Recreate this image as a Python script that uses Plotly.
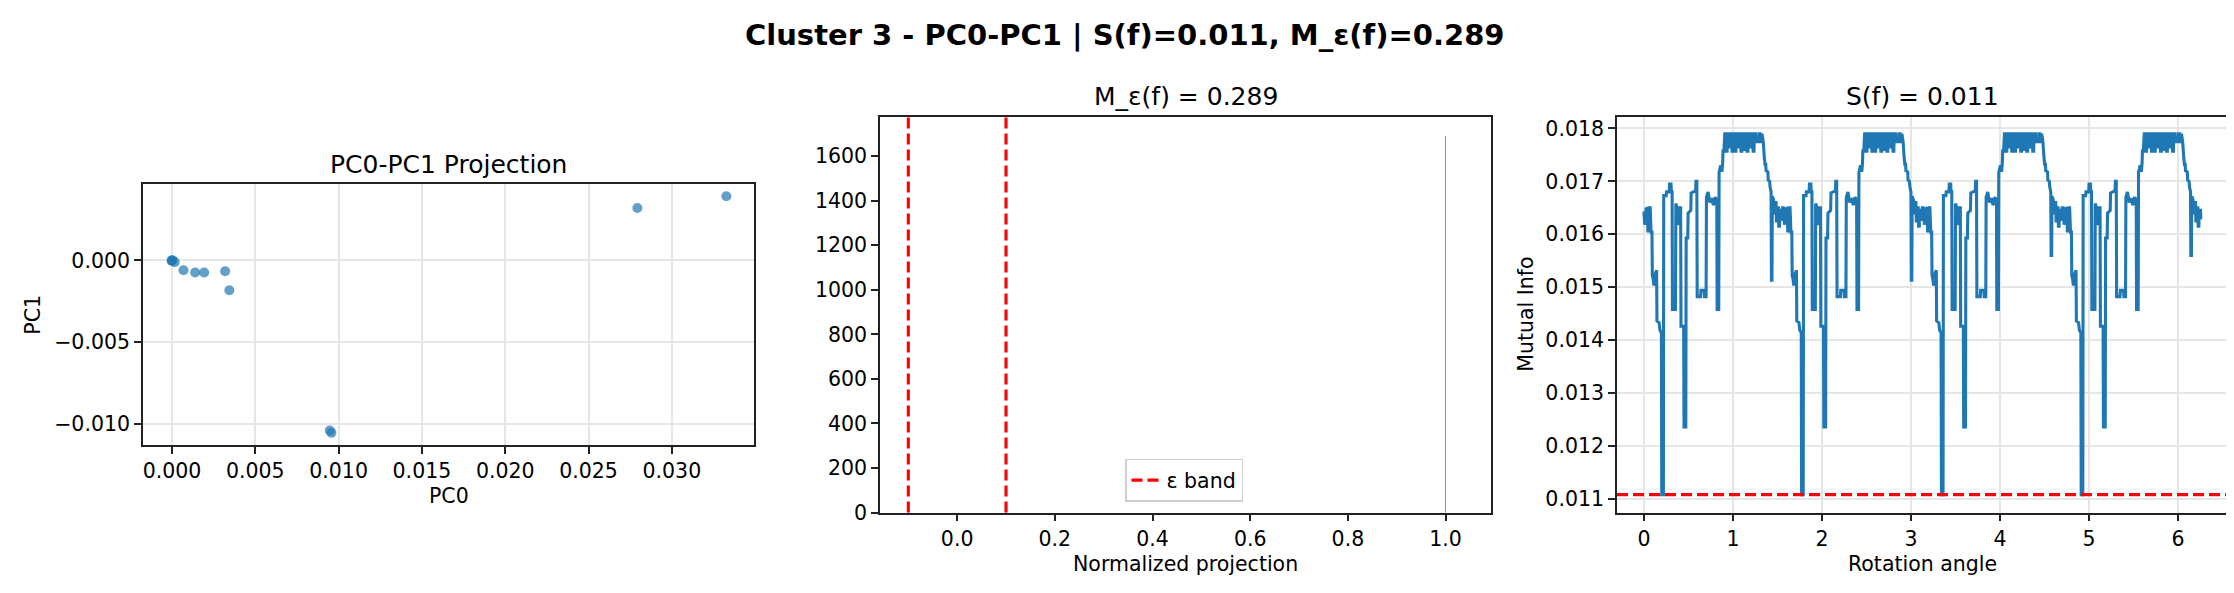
import plotly.graph_objects as go

# ---- datos ----
# panel izquierdo: proyeccion PC0-PC1
pc0 = [0.0, 0.00002, -0.00003, 0.00016, 0.00069, 0.00139, 0.00193, 0.00319, 0.00344,
       0.00947, 0.00957, 0.02793, 0.03327]
pc1 = [0.0, 0.00002, -0.00002, -0.00010, -0.00060, -0.00074, -0.00074, -0.00066, -0.00182,
       -0.01041, -0.01055, 0.00321, 0.00393]

# panel central: histograma de la proyeccion normalizada
hist_x = [1.0]
hist_count = [1692]
epsilon = 0.1
m_eps = 0.289

# panel derecho: informacion mutua vs angulo de rotacion
# un cuarto de vuelta leido del primer ciclo; los cuatro ciclos se repiten salvo
# la caida corta del final (None), que es menos profunda en los dos ultimos
quarter_angle = [
    0.000, 0.008, 0.016, 0.024, 0.040, 0.044, 0.056, 0.060, 0.070, 0.080, 0.090, 0.094,
    0.104, 0.112, 0.120, 0.134, 0.142, 0.146, 0.170, 0.180, 0.196, 0.200, 0.218, 0.222,
    0.250, 0.254, 0.284, 0.288, 0.304, 0.308, 0.316, 0.320, 0.354, 0.358, 0.372, 0.380,
    0.388, 0.392, 0.412, 0.416, 0.446, 0.450, 0.470, 0.474, 0.492, 0.496, 0.526, 0.530,
    0.580, 0.584, 0.594, 0.598, 0.636, 0.640, 0.676, 0.680, 0.698, 0.702, 0.720, 0.740,
    0.760, 0.780, 0.800, 0.818, 0.822, 0.840, 0.844, 0.862, 0.876, 0.884, 0.888, 0.898,
    0.902, 0.908, 0.920, 0.924, 0.934, 0.938, 0.952, 0.956, 0.966, 0.970, 0.986, 0.990,
    1.000, 1.004, 1.018, 1.022, 1.032, 1.036, 1.052, 1.056, 1.066, 1.070, 1.086, 1.090,
    1.100, 1.104, 1.120, 1.124, 1.134, 1.138, 1.154, 1.158, 1.168, 1.172, 1.188, 1.192,
    1.202, 1.206, 1.222, 1.226, 1.236, 1.240, 1.256, 1.260, 1.290, 1.294, 1.306, 1.310,
    1.322, 1.326,
    1.340, 1.344, 1.352, 1.360, 1.368, 1.372, 1.392, 1.396, 1.412, 1.416, 1.428, 1.432,
    1.438, 1.442, 1.456, 1.460, 1.468, 1.472, 1.484, 1.488, 1.496, 1.500, 1.510, 1.514,
    1.522, 1.526, 1.540, 1.544, 1.552, 1.556, 1.566,
]
quarter_mi = [
    0.01643, 0.01618, 0.01625, 0.01648, 0.01650, 0.01606, 0.01606, 0.01650, 0.01650, 0.01604, 0.01604, 0.01522,
    0.01515, 0.01503, 0.01522, 0.01532, 0.01532, 0.01436, 0.01433, 0.01418, 0.01414, 0.01108, 0.01108, 0.01673,
    0.01673, 0.01680, 0.01680, 0.01695, 0.01695, 0.01680, 0.01680, 0.01458, 0.01458, 0.01658, 0.01650, 0.01620,
    0.01620, 0.01650, 0.01650, 0.01426, 0.01426, 0.01236, 0.01236, 0.01593, 0.01593, 0.01640, 0.01645, 0.01678,
    0.01682, 0.01700, 0.01700, 0.01482, 0.01482, 0.01494, 0.01494, 0.01482, 0.01482, 0.01670, 0.01680, 0.01660,
    0.01668, 0.01655, 0.01670, 0.01665, 0.01458, 0.01458, 0.01717, 0.01730, 0.01718, 0.01735, 0.01757, 0.01757,
    0.01775, 0.01790, 0.01790, 0.01757, 0.01757, 0.01790, 0.01790, 0.01765, 0.01765, 0.01790, 0.01790, 0.01757,
    0.01757, 0.01790, 0.01790, 0.01757, 0.01757, 0.01790, 0.01790, 0.01765, 0.01765, 0.01790, 0.01790, 0.01757,
    0.01757, 0.01790, 0.01790, 0.01760, 0.01760, 0.01790, 0.01790, 0.01757, 0.01757, 0.01790, 0.01790, 0.01765,
    0.01765, 0.01790, 0.01790, 0.01757, 0.01757, 0.01790, 0.01790, 0.01775, 0.01775, 0.01790, 0.01790, 0.01775,
    0.01775, 0.01790,
    0.01775, 0.01757, 0.01745, 0.01732, 0.01732, 0.01720, 0.01718, 0.01702, 0.01700, 0.01690, 0.01680, None,
    None, 0.01672, 0.01665, 0.01640, 0.01640, 0.01660, 0.01660, 0.01625, 0.01625, 0.01650, 0.01650, 0.01615,
    0.01615, 0.01645, 0.01645, 0.01628, 0.01628, 0.01650, 0.01650,
]
quarter_start = [0.0, 1.571, 3.142, 4.712]
late_drop_mi = [0.01513, 0.01513, 0.01560, 0.01560]
angle_end = 6.26
s_f = 0.011

angle, mi = [], []
for start, drop in zip(quarter_start, late_drop_mi):
    for a, v in zip(quarter_angle, quarter_mi):
        if start + a > angle_end:
            break
        angle.append(start + a)
        mi.append(drop if v is None else v)

W, H = 2234, 593
FONT = "DejaVu Sans"
TICK_SIZE = 20.5


def px(x):
    return x / W


def py(y):
    return 1 - y / H


fig = go.Figure()

# izquierda
fig.add_trace(go.Scatter(
    x=pc0, y=pc1, mode="markers", xaxis="x", yaxis="y", showlegend=False,
    marker=dict(size=10, color="rgba(31,119,180,0.7)", line=dict(width=0)),
))

# centro
fig.add_trace(go.Bar(
    x=hist_x, y=hist_count, width=0.0028, xaxis="x2", yaxis="y2", showlegend=False,
    marker=dict(color="rgba(31,119,180,0.7)", line=dict(width=0)),
))
fig.add_trace(go.Scatter(
    x=[None], y=[None], mode="lines", xaxis="x2", yaxis="y2", name="ε band",
    line=dict(color="red", width=3.1, dash="11px,5px"),
))
for xv in (-epsilon, epsilon):
    fig.add_shape(type="line", xref="x2", yref="y2 domain", x0=xv, x1=xv, y0=0, y1=1,
                  line=dict(color="red", width=3.1, dash="11px,5px"))

# derecha
fig.add_trace(go.Scatter(
    x=angle, y=mi, mode="lines", xaxis="x3", yaxis="y3", showlegend=False,
    line=dict(color="#1f77b4", width=3.1),
))
fig.add_shape(type="line", xref="x3 domain", yref="y3", x0=0, x1=1, y0=min(mi), y1=min(mi),
              line=dict(color="red", width=3.1, dash="11px,5px"))

axis_style = dict(
    showline=True, mirror=True, linecolor="#222222", linewidth=1.7,
    ticks="outside", ticklen=7, tickwidth=1.7, tickcolor="#222222",
    zeroline=False, tickfont=dict(family=FONT, size=TICK_SIZE, color="black"),
    gridcolor="#e6e6e6", gridwidth=1.6,
)

fig.update_layout(
    width=W, height=H,
    margin=dict(l=0, r=0, t=0, b=0),
    paper_bgcolor="white", plot_bgcolor="white",
    font=dict(family=FONT, color="black"),
    xaxis=dict(axis_style, domain=[px(135), px(746)], range=[-0.00174, 0.03493],
               dtick=0.005, tick0=0, tickformat=".3f", anchor="y"),
    yaxis=dict(axis_style, domain=[py(445.7), py(180)], range=[-0.01128, 0.00466],
               dtick=0.005, tick0=0, tickformat=".3f", anchor="x"),
    xaxis2=dict(axis_style, domain=[px(872), px(1483)], range=[-0.158, 1.093],
                dtick=0.2, tick0=0, tickformat=".1f", showgrid=False, anchor="y2"),
    yaxis2=dict(axis_style, domain=[py(515), py(111)], range=[0, 1777],
                dtick=200, showgrid=False, anchor="x2"),
    xaxis3=dict(axis_style, domain=[px(1609), px(2219)], range=[-0.303, 6.55],
                dtick=1, tick0=0, anchor="y3"),
    yaxis3=dict(axis_style, domain=[py(515), py(111)], range=[0.01074, 0.01822],
                dtick=0.001, tick0=0.011, tickformat=".3f", anchor="x3"),
    legend=dict(
        x=px(1176), y=py(504), xanchor="center", yanchor="bottom",
        bgcolor="rgba(255,255,255,0.8)", bordercolor="#d0d0d0", borderwidth=1.5,
        font=dict(family=FONT, size=TICK_SIZE),
    ),
    bargap=0,
)

texts = [
    ("<b>Cluster 3 - PC0-PC1 | S(f)=0.011, M_ε(f)=0.289</b>", 1117, 28, 29, 0),
    ("PC0-PC1 Projection", 440.5, 160, 25, 0),
    (f"M_ε(f) = {m_eps:.3f}", 1177.5, 90, 25, 0),
    (f"S(f) = {s_f:.3f}", 1914, 90, 25, 0),
    ("PC0", 440.5, 498, 20.5, 0),
    ("PC1", 25, 313, 20.5, -90),
    ("Normalized projection", 1177.5, 567, 20.5, 0),
    ("Rotation angle", 1914, 567, 20.5, 0),
    ("Mutual Info", 1518, 313, 20.5, -90),
]
for txt, x, y, size, rot in texts:
    fig.add_annotation(
        text=txt, x=px(x), y=py(y), xref="paper", yref="paper",
        xanchor="center", yanchor="middle", showarrow=False, textangle=rot,
        font=dict(family=FONT, size=size, color="black"),
    )

fig.write_html("out.html")
